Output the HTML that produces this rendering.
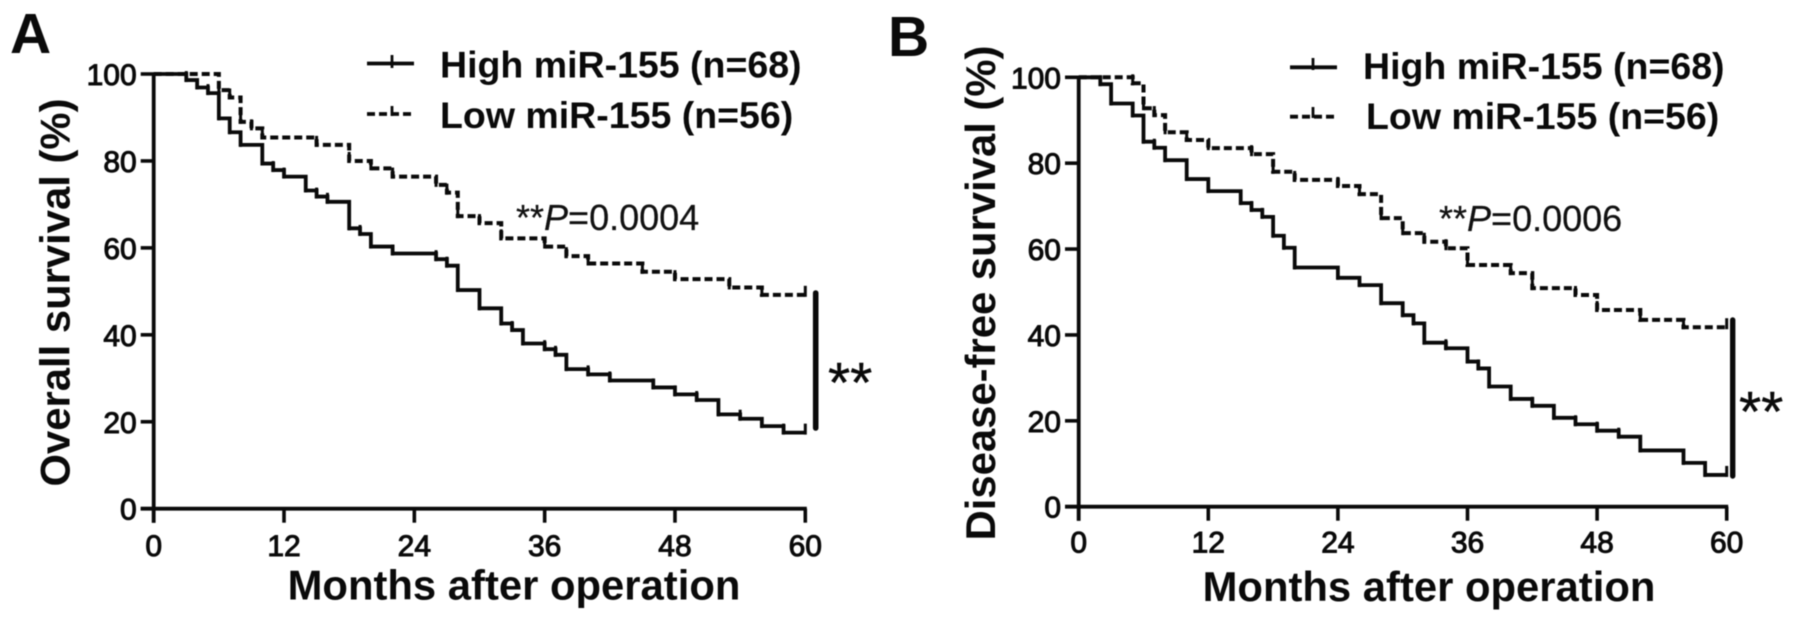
<!DOCTYPE html>
<html lang="en">
<head>
<meta charset="utf-8">
<title>miR-155 survival curves</title>
<style>
html,body{margin:0;padding:0;background:#fff;width:1795px;height:621px;overflow:hidden}
svg{display:block;filter:blur(0.55px)}
text{font-family:"Liberation Sans",Arial,sans-serif;fill:#0a0a0a}
.tick{font-size:30px;stroke:#0a0a0a;stroke-width:1px}
.title{font-size:41.8px;font-weight:700}
.legend{font-size:37.5px;font-weight:700}
.p{font-size:36px;fill:#111;stroke:#111;stroke-width:.25px}
.stars{font-size:57px;stroke:#0a0a0a;stroke-width:.4px}
.panel{font-size:57px;font-weight:700}
</style>
</head>
<body>
<svg id="fig" xmlns="http://www.w3.org/2000/svg" width="1795" height="621" viewBox="0 0 1795 621">
  <rect x="0" y="0" width="1795" height="621" fill="#fff"/>

  <g id="panelA">
    <text class="panel" x="10" y="53">A</text>
    <text class="title" transform="translate(69.5,292.5) rotate(-90)" text-anchor="middle">Overall survival (%)</text>
    <text class="title" x="514" y="599.5" text-anchor="middle">Months after operation</text>
    <line x1="367" y1="63.5" x2="414" y2="63.5" stroke="#0a0a0a" stroke-width="3.8"/>
    <line x1="392" y1="55" x2="392" y2="68" stroke="#0a0a0a" stroke-width="2.8"/>
    <line x1="367" y1="114" x2="414" y2="114" stroke="#0a0a0a" stroke-width="3.8" stroke-dasharray="8 4"/>
    <line x1="392" y1="106" x2="392" y2="116" stroke="#0a0a0a" stroke-width="2.8"/>
    <text class="legend" x="440" y="77.5">High miR-155 (n=68)</text>
    <text class="legend" x="440" y="128">Low miR-155 (n=56)</text>
    <text class="p" x="516" y="230">**<tspan font-style="italic">P</tspan>=0.0004</text>
    <line x1="815.7" y1="293" x2="815.7" y2="428" stroke="#0a0a0a" stroke-width="5.6" stroke-linecap="round"/>
    <text class="stars" x="828" y="402">**</text>
  </g>

  <g id="panelB">
    <text class="panel" x="888" y="56">B</text>
    <text class="title" transform="translate(995,293) rotate(-90)" text-anchor="middle">Disease-free survival (%)</text>
    <text class="title" x="1429" y="601" text-anchor="middle">Months after operation</text>
    <line x1="1290" y1="67.3" x2="1337" y2="67.3" stroke="#0a0a0a" stroke-width="3.8"/>
    <line x1="1313" y1="58" x2="1313" y2="70" stroke="#0a0a0a" stroke-width="2.8"/>
    <line x1="1290" y1="116.7" x2="1337" y2="116.7" stroke="#0a0a0a" stroke-width="3.8" stroke-dasharray="8 4"/>
    <line x1="1313" y1="107" x2="1313" y2="118" stroke="#0a0a0a" stroke-width="2.8"/>
    <text class="legend" x="1363" y="79">High miR-155 (n=68)</text>
    <text class="legend" x="1366" y="129">Low miR-155 (n=56)</text>
    <text class="p" x="1439" y="231">**<tspan font-style="italic">P</tspan>=0.0006</text>
    <line x1="1732.7" y1="320" x2="1732.7" y2="476" stroke="#0a0a0a" stroke-width="5.4" stroke-linecap="round"/>
    <text class="stars" x="1739" y="431">**</text>
  </g>
</svg>

<script>
// Shared axis labels
const xTicks = [0, 12, 24, 36, 48, 60];
const yTicks = [0, 20, 40, 60, 80, 100];

// Panel A: overall survival (months, percent surviving)
const highMonthsA = [0, 3, 4, 5, 6, 7, 8, 10, 11, 12, 14, 15, 16, 18, 19, 20, 22, 26, 27, 28, 30, 32, 33, 34, 36, 37, 38, 40, 42, 46, 48, 50, 52, 54, 56, 58, 60];
const highSurvivalA = [100, 98.6, 96.9, 95.6, 89.8, 86.6, 83.7, 79.4, 77.9, 76.4, 73.2, 71.8, 70.6, 64.5, 63.2, 60.3, 58.7, 57.4, 55.9, 50.3, 46.1, 42.6, 41.1, 38, 36.7, 35.4, 32.1, 30.9, 29.5, 27.9, 26.3, 25, 21.7, 20.7, 19, 17.5, 17.5];
const lowMonthsA = [0, 6, 7, 8, 9, 10, 15, 18, 20, 22, 26, 27, 28, 30, 32, 36, 38, 40, 45, 48, 53, 56, 60];
const lowSurvivalA = [100, 96.3, 94.6, 89, 87.5, 85.4, 83.7, 80, 78.3, 76.4, 74.5, 72.7, 67.3, 65.7, 62.2, 60.3, 58.1, 56.4, 54.5, 52.8, 50.9, 49.2, 49.2];

// Panel B: disease-free survival (months, percent surviving)
const highMonthsB = [0, 2, 3, 5, 6, 7, 8, 10, 12, 15, 16, 17, 18, 19, 20, 24, 26, 28, 30, 31, 32, 34, 36, 37, 38, 40, 42, 44, 46, 48, 50, 52, 56, 58, 60];
const highSurvivalB = [100, 98.4, 93.9, 91.1, 85, 83.6, 80.7, 76.3, 73.5, 70.7, 69.1, 67.5, 63.1, 60.3, 55.7, 53.3, 51.6, 47.4, 44.6, 42.7, 38.2, 36.9, 33.8, 32.2, 28, 25.1, 23.5, 20.7, 19.2, 17.7, 16.3, 13.1, 10.2, 7.4, 7.4];
const lowMonthsB = [0, 5, 6, 7, 8, 10, 12, 16, 18, 20, 24, 26, 28, 30, 32, 34, 36, 40, 42, 46, 48, 52, 56, 60];
const lowSurvivalB = [100, 98.6, 92.8, 91.2, 87.2, 85.4, 83.5, 82.1, 78, 76.1, 74.7, 72.8, 67.2, 63.7, 61.7, 60.2, 56.3, 54.4, 50.9, 49.3, 45.8, 43.5, 41.8, 41.8];

const NS = 'http://www.w3.org/2000/svg';
const INK = '#0a0a0a';

function makeScale(d0, d1, r0, r1) {
  return function (v) { return r0 + (v - d0) * (r1 - r0) / (d1 - d0); };
}

function svgEl(tag, attrs) {
  const el = document.createElementNS(NS, tag);
  for (const k in attrs) el.setAttribute(k, attrs[k]);
  return el;
}

function drawAxes(root, x, y, yTickLeft, xTickBottom, xLabelBase) {
  const yAxis = svgEl('line', { x1: x(0), y1: y(100) - 1.5, x2: x(0), y2: xTickBottom, stroke: INK, 'stroke-width': 3.8 });
  
  
  root.appendChild(yAxis);

  const xAxis = svgEl('line', { x1: yTickLeft, y1: y(0), x2: x(60) + 1.5, y2: y(0), stroke: INK, 'stroke-width': 3.8 });
  
  
  root.appendChild(xAxis);

  yTicks.forEach(function (v) {
    const t = svgEl('line', { x1: yTickLeft, y1: y(v), x2: x(0), y2: y(v), stroke: INK, 'stroke-width': 3.6 });
    
    
    root.appendChild(t);
    const lab = svgEl('text', { x: yTickLeft - 4, y: y(v) + 11, 'text-anchor': 'end', 'class': 'tick' });
    
    
    lab.textContent = v;
    root.appendChild(lab);
  });

  xTicks.forEach(function (v) {
    const t = svgEl('line', { x1: x(v), y1: y(0), x2: x(v), y2: xTickBottom, stroke: INK, 'stroke-width': 3.6 });
    
    
    root.appendChild(t);
    const lab = svgEl('text', { x: x(v), y: xLabelBase, 'text-anchor': 'middle', 'class': 'tick' });
    
    
    lab.textContent = v;
    root.appendChild(lab);
  });
}

function stepPath(months, survival, x, y) {
  let d = 'M' + x(months[0]) + ' ' + y(survival[0]);
  for (let i = 1; i < months.length; i++) {
    d += 'H' + x(months[i]) + 'V' + y(survival[i]);
  }
  return d;
}

function drawCurve(root, months, survival, x, y, dashed) {
  const line = svgEl('path', { d: stepPath(months, survival, x, y), fill: 'none', stroke: INK, 'stroke-width': dashed ? 4 : 3.8, 'stroke-linejoin': 'miter' });
  if (dashed) line.setAttribute('stroke-dasharray', '8 4');
  
  
  root.appendChild(line);
  for (let i = 1; i < months.length; i++) {
    const tick = svgEl('line', { x1: x(months[i]), y1: y(survival[i]) + 2, x2: x(months[i]), y2: y(survival[i]) - 9, stroke: INK, 'stroke-width': 3 });
    
    
    root.appendChild(tick);
  }
}

const rootA = document.getElementById('panelA');
const xA = makeScale(0, 60, 153.7, 805.3);
const yA = makeScale(0, 100, 508.7, 74);
drawAxes(rootA, xA, yA, 140.7, 522.7, 556);
drawCurve(rootA, lowMonthsA, lowSurvivalA, xA, yA, true);
drawCurve(rootA, highMonthsA, highSurvivalA, xA, yA, false);

const rootB = document.getElementById('panelB');
const xB = makeScale(0, 60, 1078.7, 1726.7);
const yB = makeScale(0, 100, 506.7, 77.3);
drawAxes(rootB, xB, yB, 1065, 520.7, 552.7);
drawCurve(rootB, lowMonthsB, lowSurvivalB, xB, yB, true);
drawCurve(rootB, highMonthsB, highSurvivalB, xB, yB, false);
</script>
</body>
</html>
